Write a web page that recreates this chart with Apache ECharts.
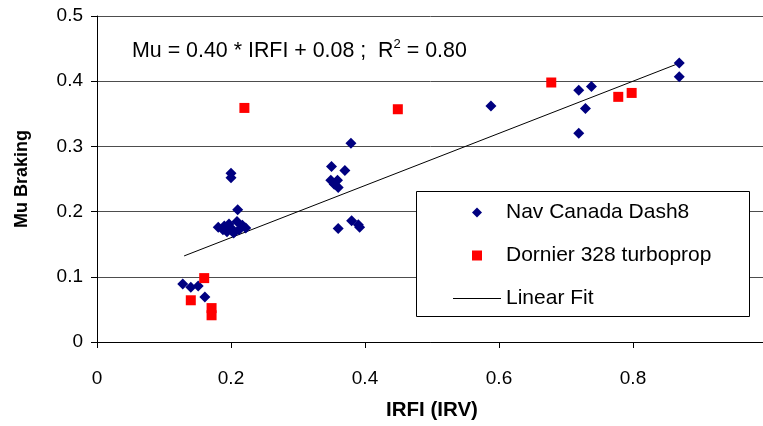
<!DOCTYPE html>
<html>
<head>
<meta charset="utf-8">
<script src="https://cdn.jsdelivr.net/npm/echarts@6/dist/echarts.min.js"></script>
<style>html,body{margin:0;padding:0;background:#fff;}#c{width:763px;height:426px;}</style>
</head>
<body>
<div id="c"></div>
<script>
// ---- data ----
var navX = [0.869,0.869,0.738,0.719,0.729,0.719,0.588,
            0.379,0.350,0.370,0.349,0.359,0.354,0.360,0.360,0.380,0.390,0.392,
            0.200,0.200,0.210,0.181,0.190,0.197,0.209,0.217,0.222,0.194,0.204,0.212,0.200,0.188,
            0.128,0.140,0.151,0.161];
var navY = [0.428,0.407,0.392,0.386,0.358,0.320,0.362,
            0.305,0.269,0.263,0.248,0.248,0.242,0.237,0.174,0.186,0.180,0.176,
            0.259,0.252,0.203,0.176,0.178,0.181,0.185,0.179,0.175,0.169,0.167,0.172,0.175,0.172,
            0.089,0.084,0.086,0.069];
var dorX = [0.220,0.449,0.678,0.778,0.798,0.160,0.140,0.171,0.171];
var dorY = [0.359,0.357,0.398,0.376,0.382,0.098,0.064,0.052,0.041];
var fitX = [0.13,0.87];
var fitY = [0.132,0.428];
var xTicks = [0,0.2,0.4,0.6,0.8,1];
var yTicks = [0,0.1,0.2,0.3,0.4,0.5];
var seriesNames = ['Nav Canada Dash8','Dornier 328 turboprop','Linear Fit'];
var equationText = 'Mu = 0.40 * IRFI + 0.08 ;  R';

function pairs(xs, ys){ return xs.map(function(x,i){ return [x, ys[i]]; }); }

var FONT = '"Liberation Sans", Arial, sans-serif';
// legend icons: padded to the full 48x10 item box so the marker keeps its size
var ICON_DIAMOND = 'path://M0,5L0,5M48,5L48,5M24,-0.5L29.5,5L24,10.5L18.5,5Z';
var ICON_SQUARE = 'path://M0,5L0,5M48,5L48,5M19,0L29,0L29,10L19,10Z';
var ICON_LINE = 'path://M0,4.5L48,4.5L48,5.5L0,5.5Z';

var chart = echarts.init(document.getElementById('c'), null, {renderer:'canvas'});
chart.setOption({
  animation: false,
  backgroundColor: '#fff',
  grid: {left: 97, width: 670, top: 16, bottom: 84, containLabel: false, outerBoundsMode: 'none'},
  xAxis: {
    type: 'value', min: xTicks[0], max: xTicks[xTicks.length-1], interval: 0.2,
    name: 'IRFI (IRV)', nameLocation: 'middle', nameGap: 58,
    nameTextStyle: {fontFamily: FONT, fontWeight: 'bold', fontSize: 20.5, color: '#000'},
    axisLine: {show: true, onZero: false, lineStyle: {color: '#000', width: 1}},
    axisTick: {show: true, length: 6, lineStyle: {color: '#000'}},
    axisLabel: {margin: 27, fontFamily: FONT, fontSize: 19, color: '#000', hideOverlap: false,
                showMaxLabel: true, showMinLabel: true},
    splitLine: {show: false}
  },
  yAxis: {
    type: 'value', min: yTicks[0], max: yTicks[yTicks.length-1], interval: 0.1,
    name: 'Mu Braking', nameLocation: 'middle', nameGap: 66, nameRotate: 90,
    nameTextStyle: {fontFamily: FONT, fontWeight: 'bold', fontSize: 18, color: '#000'},
    axisLine: {show: true, onZero: false, lineStyle: {color: '#000', width: 1}},
    axisTick: {show: true, length: 6, lineStyle: {color: '#000'}},
    axisLabel: {margin: 14, fontFamily: FONT, fontSize: 19, color: '#000'},
    splitLine: {show: true, lineStyle: {color: '#4d4d4d', width: 1}}
  },
  legend: {
    data: [
      {name: seriesNames[0], icon: ICON_DIAMOND},
      {name: seriesNames[1], icon: ICON_SQUARE},
      {name: seriesNames[2], icon: ICON_LINE}
    ],
    z: 30,
    orient: 'vertical', left: 453, top: 202, padding: 0,
    itemWidth: 48, itemHeight: 10, itemGap: 22,
    textStyle: {fontFamily: FONT, fontSize: 21, color: '#000', lineHeight: 21},
    selectedMode: false
  },
  graphic: [
    {type: 'rect', left: 416, top: 191, z: 10,
     shape: {width: 333, height: 125},
     style: {fill: '#fff', stroke: '#000', lineWidth: 1}},
    {type: 'text', left: 132, top: 38, z: 20,
     style: {
       text: '{a|' + equationText + '}{s|2}{a| = 0.80}',
       rich: {
         a: {fontFamily: FONT, fontSize: 21.4, fill: '#000', lineHeight: 24, verticalAlign: 'bottom'},
         s: {fontFamily: FONT, fontSize: 13, fill: '#000', lineHeight: 24, verticalAlign: 'top'}
       }
     }}
  ],
  series: [
    {name: seriesNames[0], type: 'scatter', data: pairs(navX, navY), symbol: 'diamond', symbolSize: 11,
     itemStyle: {color: '#000080', opacity: 1}, z: 3},
    {name: seriesNames[1], type: 'scatter', data: pairs(dorX, dorY), symbol: 'rect', symbolSize: 10,
     itemStyle: {color: '#ff0000', opacity: 1}, z: 4},
    {name: seriesNames[2], type: 'line', data: pairs(fitX, fitY), symbol: 'none', showSymbol: false,
     lineStyle: {color: '#000', width: 1}, itemStyle: {color: '#000'}, z: 2}
  ]
});
</script>
</body>
</html>
